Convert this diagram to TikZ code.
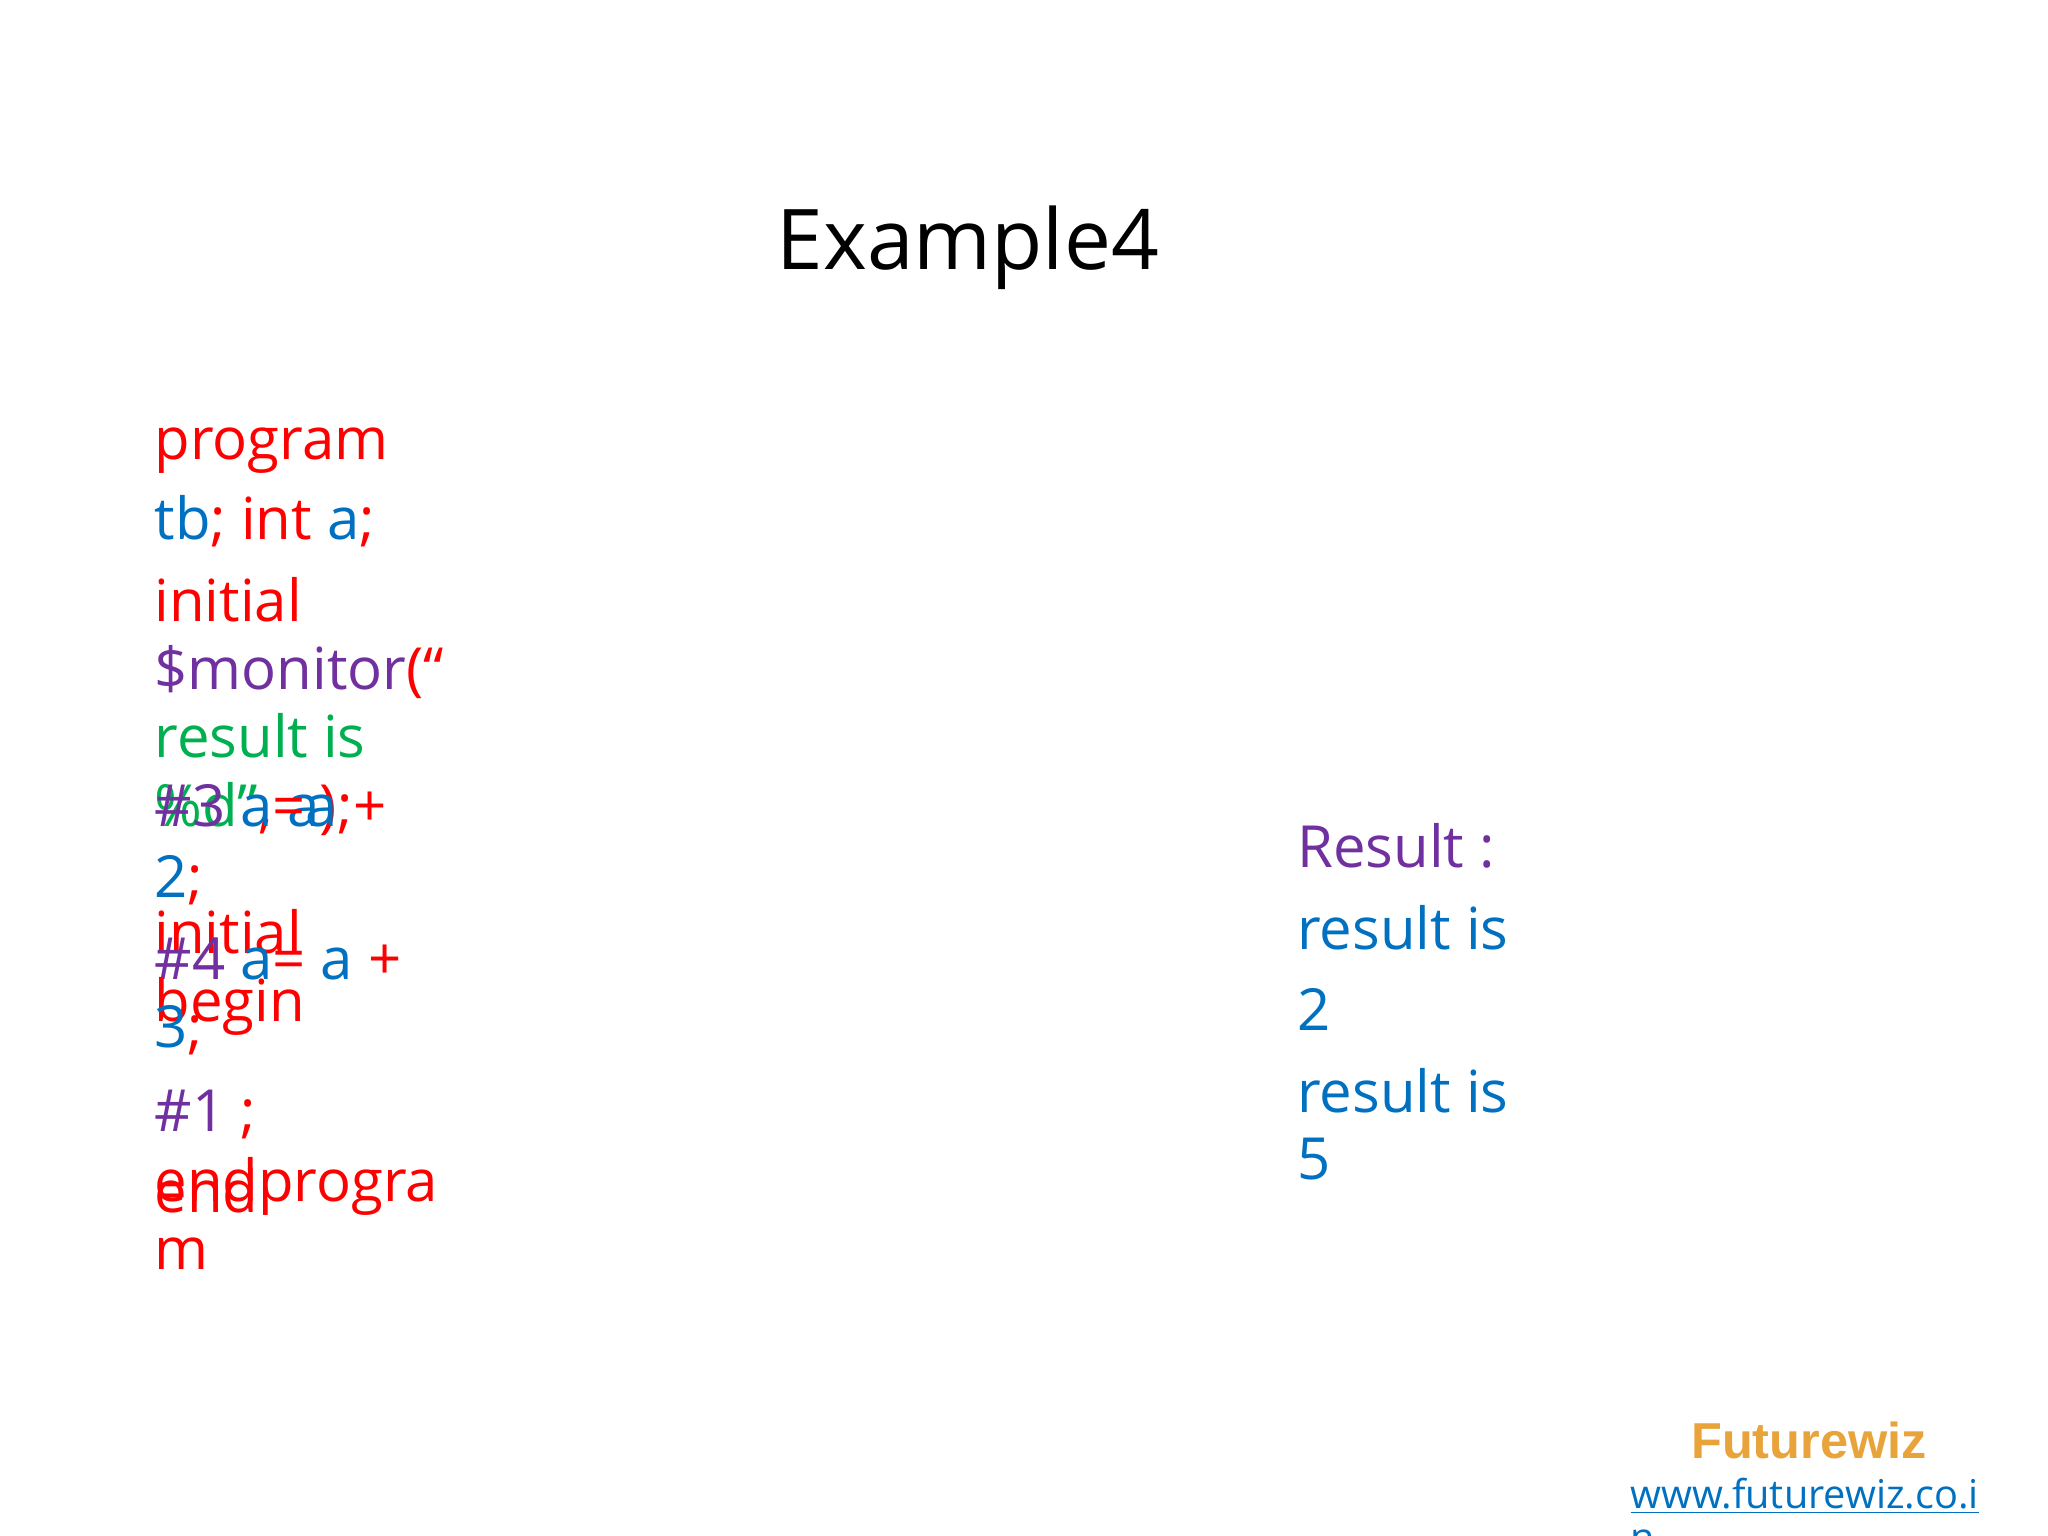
\documentclass[tikz,border=0pt]{standalone}
\usepackage{fontspec}
\setmainfont{Open Sans}
\newfontfamily\arialb{Liberation Sans}
\definecolor{cred}{HTML}{FF0000}
\definecolor{cblue}{HTML}{0070C0}
\definecolor{cpurp}{HTML}{7030A0}
\definecolor{cgreen}{HTML}{00B050}
\definecolor{corange}{HTML}{E8A33A}
\begin{document}
\begin{tikzpicture}[x={(0.02cm,0)},y={(0,-0.02cm)},
  code/.style={anchor=base west,inner sep=0pt,font=\fontsize{25.3}{30}\selectfont},
  ttl/.style={anchor=base,inner sep=0pt,font=\fontsize{36.5}{44}\selectfont}]
\useasboundingbox (0,0) rectangle (1568,1176);
\node[ttl] (title) at (741,206) {Example4};
\node[code,text=cred] (l1) at (118,352) {program};
\node[code,text=cblue] (l2) at (118,413) {tb\textcolor{cred}{;\ int\ }a\textcolor{cred}{;}};
\node[code,text=cred] (l3) at (118,476) {initial};
\node[code,text=cpurp] (l4) at (118,528) {\$monitor\textcolor{cred}{(“}};
\node[code,text=cgreen] (l5) at (118,580) {result is};
\node[code,text=cgreen] (l6) at (118,633) {\%d”\textcolor{cred}{,\ }\textcolor{cblue}{a}\textcolor{cred}{);}};
\node[code,text=cpurp] (l7) at (118,633) {\#3\ \textcolor{cblue}{a}\textcolor{cred}{=}\textcolor{cblue}{a}\ \textcolor{cred}{+}};
\node[code,text=cblue] (l8) at (118,687) {2\textcolor{cred}{;}};
\node[code,text=cred] (l9) at (118,730) {initial};
\node[code,text=cpurp] (l10) at (118,750) {\#4\ \textcolor{cblue}{a}\textcolor{cred}{=}\ \textcolor{cblue}{a}\ \textcolor{cred}{+}};
\node[code,text=cred] (l11) at (118,782) {begin};
\node[code,text=cblue] (l12) at (118,802) {3\textcolor{cred}{;}};
\node[code,text=cpurp] (l13) at (118,866) {\#1\ \textcolor{cred}{;}};
\node[code,text=cred] (l14) at (118,920) {endprogra};
\node[code,text=cred] (l15) at (118,928) {end};
\node[code,text=cred] (l16) at (118,972) {m};
\node[code,text=cpurp] (r1) at (993,664) {Result :};
\node[code,text=cblue] (r2) at (993,727) {result is};
\node[code,text=cblue] (r3) at (993,789) {2};
\node[code,text=cblue] (r4) at (993,852) {result is};
\node[code,text=cblue] (r5) at (993,903) {5};
\node[anchor=base,inner sep=0pt,text=corange,font=\arialb\bfseries\fontsize{22}{26}\selectfont] (fw) at (1385,1117) {Futurewiz};
\node[anchor=base west,inner sep=0pt,text=cblue,font=\fontsize{17.3}{20}\selectfont] (url) at (1248,1155) {\underline{www.futurewiz.co.i}};
\node[anchor=base west,inner sep=0pt,text=cblue,font=\fontsize{17.3}{20}\selectfont] (url2) at (1248,1188) {\underline{n}};
\end{tikzpicture}
\end{document}
